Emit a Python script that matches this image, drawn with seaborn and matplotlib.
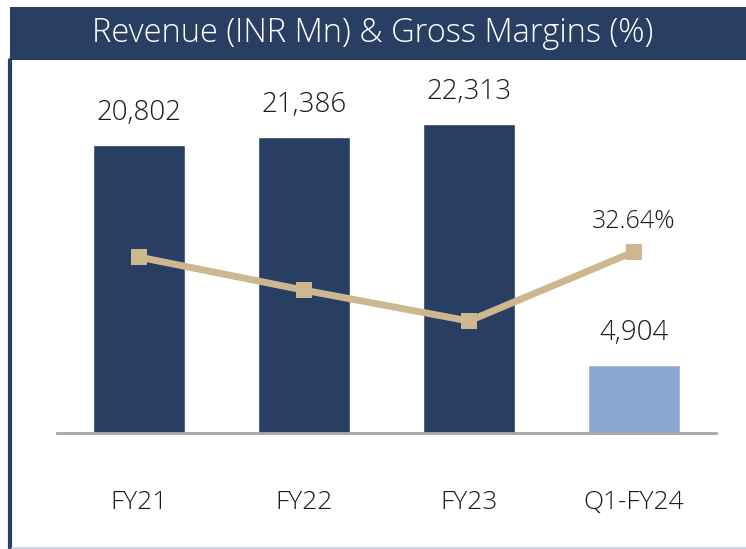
import numpy as np
import matplotlib.pyplot as plt
import seaborn as sns
from matplotlib.patches import Rectangle
from matplotlib.lines import Line2D

# data
periods = ["FY21", "FY22", "FY23", "Q1-FY24"]
revenue = [20802, 21386, 22313, 4904]
margins = [32.4, 30.9, 29.5, 32.64]   # only the last one is labelled
bar_colors = ["#283F63", "#283F63", "#283F63", "#8AA8D2"]

sns.set_theme(style="white")
plt.rcParams['font.family'] = ['Open Sans', 'DejaVu Sans']
plt.rcParams['font.weight'] = 'light'

fig = plt.figure(figsize=(7.46, 5.49), dpi=100)
ax = fig.add_axes([57 / 746, 1 - 433 / 549, (716 - 57) / 746, 371 / 549])

sns.barplot(x=periods, y=revenue, hue=periods, palette=bar_colors,
            width=0.558, saturation=1, legend=False, ax=ax)
ax.set_ylim(0, 26787)
ax.set_xlim(-0.5, 3.5)

# gross margin line on a second axis
ax2 = ax.twinx()
sns.lineplot(x=np.arange(len(periods)), y=margins, color="#CDB78F", lw=5,
             marker="s", markersize=11, markeredgewidth=0, ax=ax2)
ax2.set_ylim(24.41, 41.27)
ax2.set_xlim(-0.5, 3.5)

for a in (ax, ax2):
    for s in a.spines.values():
        s.set_visible(False)
    a.set_yticks([])
    a.set_ylabel("")
    a.set_xlabel("")
ax.spines["bottom"].set_visible(True)
ax.spines["bottom"].set_color("#A6A6A6")
ax.spines["bottom"].set_linewidth(2)
ax.tick_params(axis="x", length=0, pad=41, labelsize=19, labelcolor="#1a1a1a")

# value labels
for i, v in enumerate(revenue):
    ax.annotate(f"{v:,}", (i, v), xytext=(0, 13), textcoords="offset points",
                ha="center", va="bottom", fontsize=20, color="#1a1a1a")
ax2.annotate(f"{margins[-1]:.2f}%", (3, margins[-1]), xytext=(0, 13),
             textcoords="offset points", ha="center", va="bottom",
             fontsize=18, color="#1a1a1a")

# title banner and frame
fig.add_artist(Rectangle((10 / 746, 1 - 60 / 549), 736 / 746, 53 / 549,
                         transform=fig.transFigure, color="#283F63", lw=0))
fig.text(0.50, 1 - 33 / 549, "Revenue (INR Mn) & Gross Margins (%)",
         ha="center", va="center", color="white", fontsize=23.5)
fig.add_artist(Line2D([10 / 746, 10 / 746], [0, 1 - 60 / 549],
                      transform=fig.transFigure, color="#283F63", lw=3))
fig.add_artist(Line2D([12 / 746, 1], [1 / 549, 1 / 549],
                      transform=fig.transFigure, color="#D0D5DD", lw=2))

fig.savefig("out.png", dpi=100)
